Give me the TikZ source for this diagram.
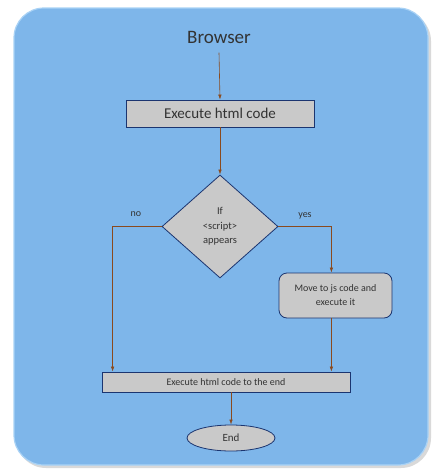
\documentclass[tikz,border=0pt]{standalone}
\usepackage{fontspec}
\setmainfont{Carlito}
\usetikzlibrary{shapes.geometric, arrows.meta, positioning, calc}
\definecolor{bgblue}{HTML}{7EB6EA}
\definecolor{bgedge}{HTML}{A9D2F5}
\definecolor{boxgray}{HTML}{C9C9C9}
\definecolor{boxedge}{HTML}{1B3570}
\definecolor{flow}{HTML}{8A4A1E}
\definecolor{txt}{HTML}{333333}

\begin{document}
\begin{tikzpicture}[x=1pt, y=-1pt,
  procbox/.style={draw=boxedge, line width=0.8pt, fill=boxgray, text=txt, inner sep=0pt},
  decision/.style={diamond, draw=boxedge, line width=0.8pt, fill=boxgray, text=txt,
    minimum width=116pt, minimum height=103pt, inner sep=0pt, align=center, font=\fontsize{10.5}{14.5}\selectfont},
  flowarrow/.style={draw=flow, line width=0.6pt, -{Latex[length=5pt,width=3.5pt]}}]
\useasboundingbox (0,0) rectangle (444,474);
% Background panel
\fill[black!15, rounded corners=30pt] (16,11) rectangle (431,468);
\draw[bgedge, line width=1.2pt, fill=bgblue, rounded corners=30pt] (14,8) rectangle (428,465);

% Nodes
\node[text=txt, font=\fontsize{19}{21}\selectfont] (browser) at (219,37) {Browser};
\node[procbox, minimum width=188pt, minimum height=27pt, font=\fontsize{15}{17}\selectfont] (exec) at (220,113.5) {Execute html code};
\node[decision] (check) at (220,226.5) {If\\\textless script\textgreater\\appears};
\node[procbox, rounded corners=8pt, minimum width=113pt, minimum height=45pt, align=center,
  font=\fontsize{10}{14}\selectfont] (js) at (335.5,295.5) {Move to js code and\\execute it};
\node[procbox, minimum width=248pt, minimum height=20pt, font=\fontsize{10}{12}\selectfont] (rest) at (226,382) {Execute html code to the end};
\node[procbox, ellipse, minimum width=88pt, minimum height=26pt, font=\fontsize{11}{13}\selectfont] (finish) at (231,438) {End};
\node[text=txt, font=\fontsize{10}{12}\selectfont] (nolbl) at (136,214) {no};
\node[text=txt, font=\fontsize{10}{12}\selectfont] (yeslbl) at (305,216) {yes};

% Connectors
\draw[flowarrow] ($(browser.south)+(0,6)$) -- (exec.north);
\draw[flowarrow] (exec.south) -- (check.north);
\draw[flowarrow] (check.west) -- ++(-49,0) coordinate (noturn) -- (noturn |- rest.north);
\draw[flowarrow] (check.east) -- ++(53,0) coordinate (yesturn) -- (yesturn |- js.north);
\draw[flowarrow] (yesturn |- js.south) -- (yesturn |- rest.north);
\draw[flowarrow] (rest.south -| finish.north) -- (finish.north);
\end{tikzpicture}
\end{document}
